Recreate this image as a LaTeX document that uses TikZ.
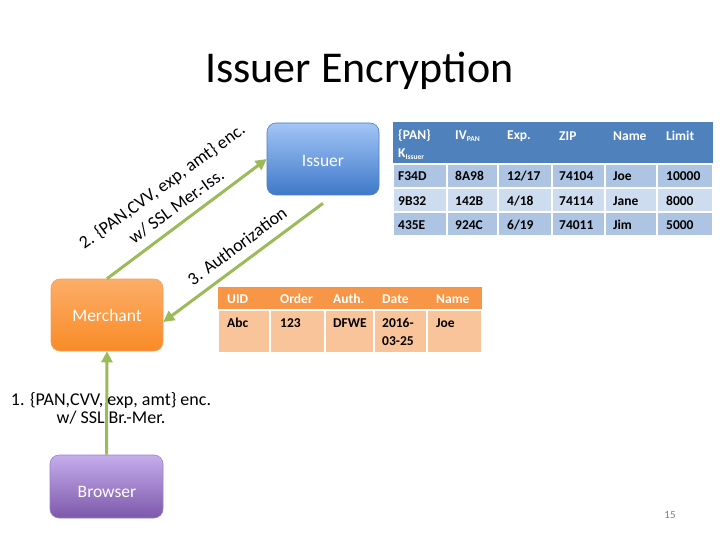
\documentclass[tikz,border=0pt]{standalone}
\usepackage{fontspec}
\setmainfont{Carlito}
\usetikzlibrary{arrows.meta,calc}
\definecolor{arrowgreen}{HTML}{9BBB59}
\definecolor{isstop}{HTML}{A2C5F6}
\definecolor{issbot}{HTML}{3E79C9}
\definecolor{isslin}{HTML}{4A7EC0}
\definecolor{mertop}{HTML}{FCAD68}
\definecolor{merbot}{HTML}{F98B26}
\definecolor{merlin}{HTML}{F0A060}
\definecolor{brotop}{HTML}{C5ADEC}
\definecolor{brobot}{HTML}{7C58AA}
\definecolor{brolin}{HTML}{9A80C8}
\definecolor{thead}{HTML}{4F81BD}
\definecolor{tbA}{HTML}{ADC4E3}
\definecolor{tbB}{HTML}{CEDCF0}
\definecolor{ohead}{HTML}{F79646}
\definecolor{obody}{HTML}{FAC49A}
\definecolor{pgray}{HTML}{7F7F7F}
\tikzset{
  party/.style={rounded corners=9pt, minimum width=112pt, minimum height=72pt,
    text=white, font=\fontsize{17.5}{20}\selectfont, inner sep=0pt, line width=0.6pt},
  arr/.style={draw=arrowgreen, line width=3pt, -{Triangle[length=11pt,width=11pt]}},
  lbl/.style={align=center, font=\fontsize{18}{18}\selectfont, inner sep=0pt},
  hdr/.style={anchor=west, inner sep=0pt, text=white, font=\bfseries\fontsize{13.5}{14}\selectfont},
  cel/.style={anchor=west, inner sep=0pt, text=black, font=\bfseries\fontsize{13.5}{14}\selectfont},
  sep/.style={draw=white, line width=1.5pt}
}
\newcommand{\lowsub}[1]{\raisebox{-2.5pt}{\fontsize{7.5}{8}\selectfont #1}}
\begin{document}
\begin{tikzpicture}[x=1pt,y=-1pt]
\useasboundingbox[fill=white] (0,0) rectangle (720,540);

% title
\node[anchor=base, inner sep=0pt, font=\fontsize{44}{50}\selectfont] (title) at (359.5,83) {Issuer Encryption};

% parties
\node[party, top color=isstop, bottom color=issbot, draw=isslin] (issuer) at (323,159) {};
\node[text=white, font=\fontsize{17.5}{20}\selectfont, inner sep=0pt] (issuertext) at (323,161) {Issuer};
\node[party, top color=mertop, bottom color=merbot, draw=merlin] (merchant) at (107,315) {Merchant};
\node[party, minimum height=63pt, minimum width=113pt, top color=brotop, bottom color=brobot, draw=brolin] (browser) at (106.5,486.5) {};
\node[text=white, font=\fontsize{17.5}{20}\selectfont, inner sep=0pt] (browsertext) at (107,492) {Browser};

% arrows
\coordinate (a3s) at ($(issuer.south)+(0,8)$);
\coordinate (a3e) at ($(merchant.east)+(0,7)$);
\draw[arr] (browser.north) -- (merchant.south);
\draw[arr] (merchant.north) -- (issuer.west);
\draw[arr] (a3s) -- (a3e);

% labels
\node[lbl] (lab1) at (111,408) {1. \{PAN,CVV, exp, amt\} enc.\\ w/ SSL Br.-Mer.};
\node[lbl, rotate=36, font=\fontsize{18}{24.5}\selectfont] (lab2) at (169,196) {2. \{PAN,CVV, exp, amt\} enc.\\ w/ SSL Mer.-Iss.};
\node[lbl, rotate=36.5] (lab3) at (237,246) {3. Authorization};

% issuer table
\fill[thead] (393,122) rectangle (713,163);
\foreach \ya/\yb/\cc in {164/188/tbA, 188/212/tbB, 212/236/tbA}{
  \foreach \xa/\xb in {393/447, 447/498, 498/552, 552/605, 605/657, 657/713}{
    \filldraw[fill=\cc, sep] (\xa,\ya) rectangle (\xb,\yb);
  }
}
\node[hdr] (h11) at (398,136) {\{PAN\}};
\node[hdr] (h12) at (398,154) {K\lowsub{Issuer}};
\node[hdr] (h2) at (455,136) {IV\lowsub{PAN}};
\node[hdr] (h3) at (507,136) {Exp.};
\node[hdr] (h4) at (559,136) {ZIP};
\node[hdr] (h5) at (613,136) {Name};
\node[hdr] (h6) at (666,136) {Limit};
\node[cel] (r11) at (398,176) {F34D};
\node[cel] (r12) at (455,176) {8A98};
\node[cel] (r13) at (507,176) {12/17};
\node[cel] (r14) at (559,176) {74104};
\node[cel] (r15) at (613,176) {Joe};
\node[cel] (r16) at (666,176) {10000};
\node[cel] (r21) at (398,201) {9B32};
\node[cel] (r22) at (455,201) {142B};
\node[cel] (r23) at (507,201) {4/18};
\node[cel] (r24) at (559,201) {74114};
\node[cel] (r25) at (613,201) {Jane};
\node[cel] (r26) at (666,201) {8000};
\node[cel] (r31) at (398,225) {435E};
\node[cel] (r32) at (455,225) {924C};
\node[cel] (r33) at (507,225) {6/19};
\node[cel] (r34) at (559,225) {74011};
\node[cel] (r35) at (613,225) {Jim};
\node[cel] (r36) at (666,225) {5000};

% merchant table
\fill[ohead] (218,287) rectangle (482,309);
\foreach \xa/\xb in {218/270, 270/325, 325/374, 374/427, 427/482}{
  \filldraw[fill=obody, sep] (\xa,310) rectangle (\xb,353);
}
\node[hdr] (m1) at (227,299) {UID};
\node[hdr] (m2) at (280,299) {Order};
\node[hdr] (m3) at (333,299) {Auth.};
\node[hdr] (m4) at (382,299) {Date};
\node[hdr] (m5) at (436,299) {Name};
\node[cel] (n1) at (227,323) {Abc};
\node[cel] (n2) at (280,323) {123};
\node[cel] (n3) at (333,323) {DFWE};
\node[cel] (n4) at (382,323) {2016-};
\node[cel] (n4b) at (382,341) {03-25};
\node[cel] (n5) at (436,323) {Joe};

% page number
\node[text=pgray, font=\fontsize{11}{12}\selectfont, inner sep=0pt] (pg) at (670,515) {15};
\end{tikzpicture}
\end{document}
